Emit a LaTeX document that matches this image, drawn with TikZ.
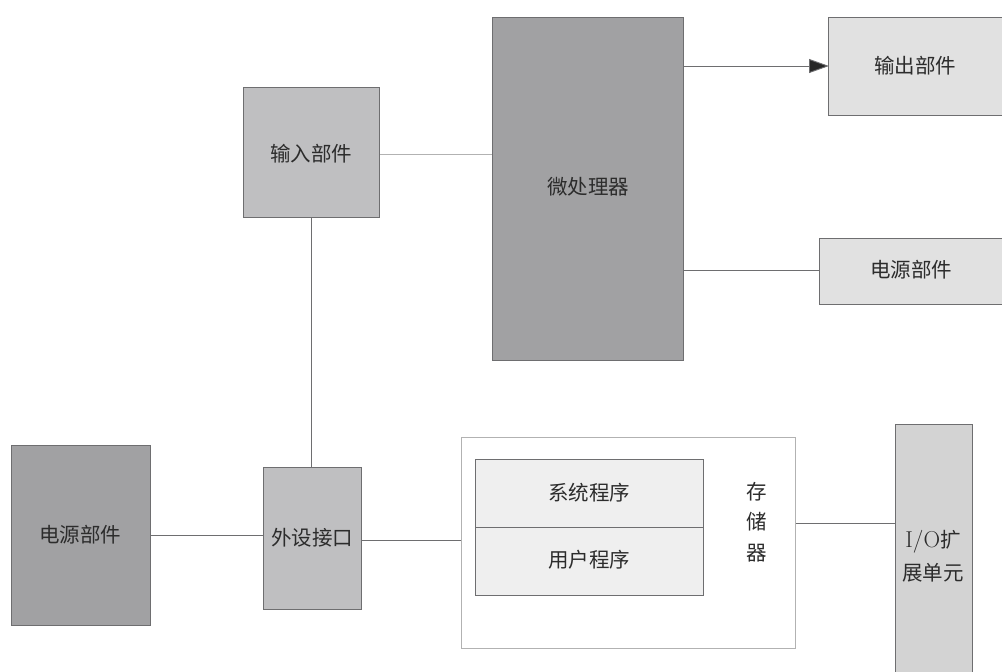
\documentclass[tikz,border=0pt]{standalone}
\usepackage{fontspec}
\newfontfamily\cjk{Noto Sans CJK SC}
\usetikzlibrary{arrows.meta}
\definecolor{dark}{HTML}{A1A1A3}
\definecolor{mid}{HTML}{BFBFC1}
\definecolor{light}{HTML}{E1E1E1}
\definecolor{io}{HTML}{D3D3D3}
\definecolor{inner}{HTML}{EFEFEF}
\definecolor{edge}{HTML}{6E6E70}
\definecolor{txt}{HTML}{2C2C2C}
\tikzset{
  blk/.style={draw=edge, line width=1.2pt, inner sep=0pt},
  lbl/.style={text=txt, font=\cjk\fontsize{20.5}{24}\selectfont},
  wire/.style={draw=edge, line width=0.9pt},
}
\begin{document}
\begin{tikzpicture}[x=1pt,y=-1pt]
\useasboundingbox (0,0) rectangle (1002,672);
% storage outer box
\node[draw=black!30, line width=1pt, fill=white, minimum width=334pt, minimum height=211pt, anchor=north west] (mem) at (461,437) {};
% blocks
\node[blk, fill=dark, minimum width=191pt, minimum height=343pt, anchor=north west] (cpu) at (492,17) {};
\node[lbl] (cpul) at (588,187) {微处理器};
\node[blk, fill=light, minimum width=180pt, minimum height=98pt, anchor=north west] (out) at (828,17) {};
\node[lbl] (outl) at (915,66) {输出部件};
\node[blk, fill=mid, minimum width=136pt, minimum height=130pt, anchor=north west] (in) at (243,87) {};
\node[lbl] (inl) at (311,154) {输入部件};
\node[blk, fill=light, minimum width=190pt, minimum height=66pt, anchor=north west] (pw1) at (819,238) {};
\node[lbl] (pw1l) at (911,270) {电源部件};
\node[blk, fill=dark, minimum width=139pt, minimum height=180pt, anchor=north west] (pw2) at (11,445) {};
\node[lbl] (pw2l) at (80,535) {电源部件};
\node[blk, fill=mid, minimum width=98pt, minimum height=142pt, anchor=north west] (per) at (263,467) {};
\node[lbl] (perl) at (312,538) {外设接口};
\node[blk, fill=inner, minimum width=228pt, minimum height=68pt, anchor=north west] (sys) at (475,459) {};
\node[lbl] (sysl) at (589,493) {系统程序};
\node[blk, fill=inner, minimum width=228pt, minimum height=68pt, anchor=north west] (usr) at (475,527) {};
\node[lbl] (usrl) at (589,560) {用户程序};
\node[lbl, font=\cjk\fontsize{20.5}{30.5}\selectfont, align=center] (meml) at (757,522) {存\\储\\器};
\node[blk, fill=io, minimum width=77pt, minimum height=260pt, anchor=north west] (ioe) at (895,424) {};
\node[lbl, font=\cjk\fontsize{20.5}{33}\selectfont, align=center] (ioel) at (933,556) {{\rmfamily\fontsize{23}{33}\selectfont I/O}扩\\展单元};
% connectors
\draw[wire, -{Triangle[length=20pt,width=14pt,fill=black!85]}, shorten >=-1pt] (cpu.north east |- 0,66) -- (out.west |- 0,66);
\draw[wire, draw=black!30] (in.east |- 0,154) -- (cpu.west |- 0,154);
\draw[wire] (cpu.east |- 0,270) -- (pw1.west |- 0,270);
\draw[wire] (pw2.east |- 0,535) -- (per.west |- 0,535);
\draw[wire] (per.north -| 311,0) -- (in.south -| 311,0);
\draw[wire] (per.east |- 0,540) -- (mem.west |- 0,540);
\draw[wire] (mem.east |- 0,523) -- (ioe.west |- 0,523);
\end{tikzpicture}
\end{document}
